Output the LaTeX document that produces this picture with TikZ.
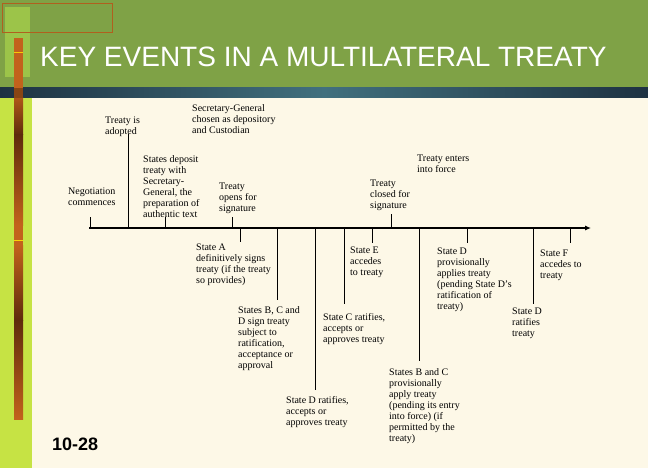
\documentclass[tikz,border=0pt]{standalone}
\usepackage{fontspec}
\setmainfont{Liberation Serif}
\newfontfamily\titlefont{Liberation Sans}
\usetikzlibrary{arrows.meta}
\definecolor{hdrgreen}{HTML}{7FA246}
\definecolor{hdrlight}{HTML}{9CC449}
\definecolor{bandDark}{HTML}{1E3242}
\definecolor{bandMid}{HTML}{41707E}
\definecolor{cream}{HTML}{FDF8E7}
\definecolor{lime}{HTML}{C6E344}
\definecolor{rustA}{HTML}{C2621C}
\definecolor{rustB}{HTML}{5E2B0C}
\definecolor{rectline}{HTML}{B0601E}
\begin{document}
\begin{tikzpicture}[x=1pt,y=-1pt,
  lbl/.style={anchor=north west, inner sep=0pt, align=left, font=\fontsize{10}{11}\selectfont, text=black},
  tickline/.style={line width=0.9pt, draw=black}]
\useasboundingbox (0,0) rectangle (648,468);
% background
\fill[cream] (0,0) rectangle (648,468);
\fill[hdrgreen] (0,0) rectangle (648,88);
\shade[left color=bandDark, right color=bandDark, middle color=bandMid] (0,88) rectangle (648,98);
\fill[lime] (0,98) rectangle (32,468);
\fill[hdrlight] (5,7) rectangle (30,77);
\draw[rectline, line width=0.6pt] (2,3) rectangle (112,32);
% brown bar
\fill[rustA] (14,38) rectangle (23,88);
\shade[top color=rustA!80!rustB, bottom color=rustB] (14,98) rectangle (23,135);
\shade[top color=rustB, bottom color=rustA] (14,135) rectangle (23,225);
\fill[rustA] (14,225) rectangle (23,245);
\shade[top color=rustA, bottom color=rustB] (14,245) rectangle (23,320);
\shade[top color=rustB, bottom color=rustA] (14,320) rectangle (23,419);
\fill[rustA!70!black] (14,88) rectangle (23,98);
\draw[yellow!70!orange, line width=0.8pt] (14,240) -- (23,240);
\draw[yellow!60!orange, line width=0.6pt] (14,52) -- (23,52);
% title and page number
\node[anchor=base west, inner sep=0pt, text=white, font=\titlefont\fontsize{28}{30}\selectfont] (title) at (40,67) {KEY EVENTS IN A MULTILATERAL TREATY};
\node[anchor=base west, inner sep=0pt, text=black, font=\titlefont\bfseries\fontsize{18}{20}\selectfont] (pnum) at (52,450) {10-28};
% timeline
\coordinate (tlstart) at (89,228);
\coordinate (tlend) at (591,228);
\draw[line width=1.1pt, -{Latex[length=6pt,width=5pt]}] (tlstart) -- (tlend);
% labels above
\node[lbl] (neg) at (68,188) {Negotiation\\commences};
\node[lbl] (adopt) at (105,117) {Treaty is\\adopted};
\node[lbl] (sg) at (192,104) {Secretary-General\\chosen as depository\\and Custodian};
\node[lbl] (dep) at (143,155) {States deposit\\treaty with\\Secretary-\\General, the\\preparation of\\authentic text};
\node[lbl] (open) at (219,183) {Treaty\\opens for\\signature};
\node[lbl] (closed) at (370,180) {Treaty\\closed for\\signature};
\node[lbl] (force) at (417,155) {Treaty enters\\into force};
% labels below
\node[lbl] (sA) at (196,244) {State A\\definitively signs\\treaty (if the treaty\\so provides)};
\node[lbl] (sBCD) at (238,306) {States B, C and\\D sign treaty\\subject to\\ratification,\\acceptance or\\approval};
\node[lbl] (sDrat) at (286,396) {State D ratifies,\\accepts or\\approves treaty};
\node[lbl] (sC) at (323,313) {State C ratifies,\\accepts or\\approves treaty};
\node[lbl] (sE) at (350,247) {State E\\accedes\\to treaty};
\node[lbl] (sBC) at (389,368) {States B and C\\provisionally\\apply treaty\\(pending its entry\\into force) (if\\permitted by the\\treaty)};
\node[lbl] (sDprov) at (437,248) {State D\\provisionally\\applies treaty\\(pending State D's\\ratification of\\treaty)};
\node[lbl] (sDrat2) at (512,308) {State D\\ratifies\\treaty};
\node[lbl] (sF) at (540,250) {State F\\accedes to\\treaty};
% tick coordinates
\foreach \n/\x/\y in {negT/90/217, adoptT/128/134, depT/165/217, openT/232/217, closedT/391/214,
  sAT/240/242, sBCDT/277/300, sDratT/315/390, sCT/344/304, sET/372/243, sBCT/419/361,
  sDprovT/467/243, sDrat2T/533/304, sFT/570/243}{
  \coordinate (\n) at (\x,\y);
  \coordinate (\n0) at (\x,228);
  \draw[tickline] (\n0) -- (\n);
}
\end{tikzpicture}
\end{document}
